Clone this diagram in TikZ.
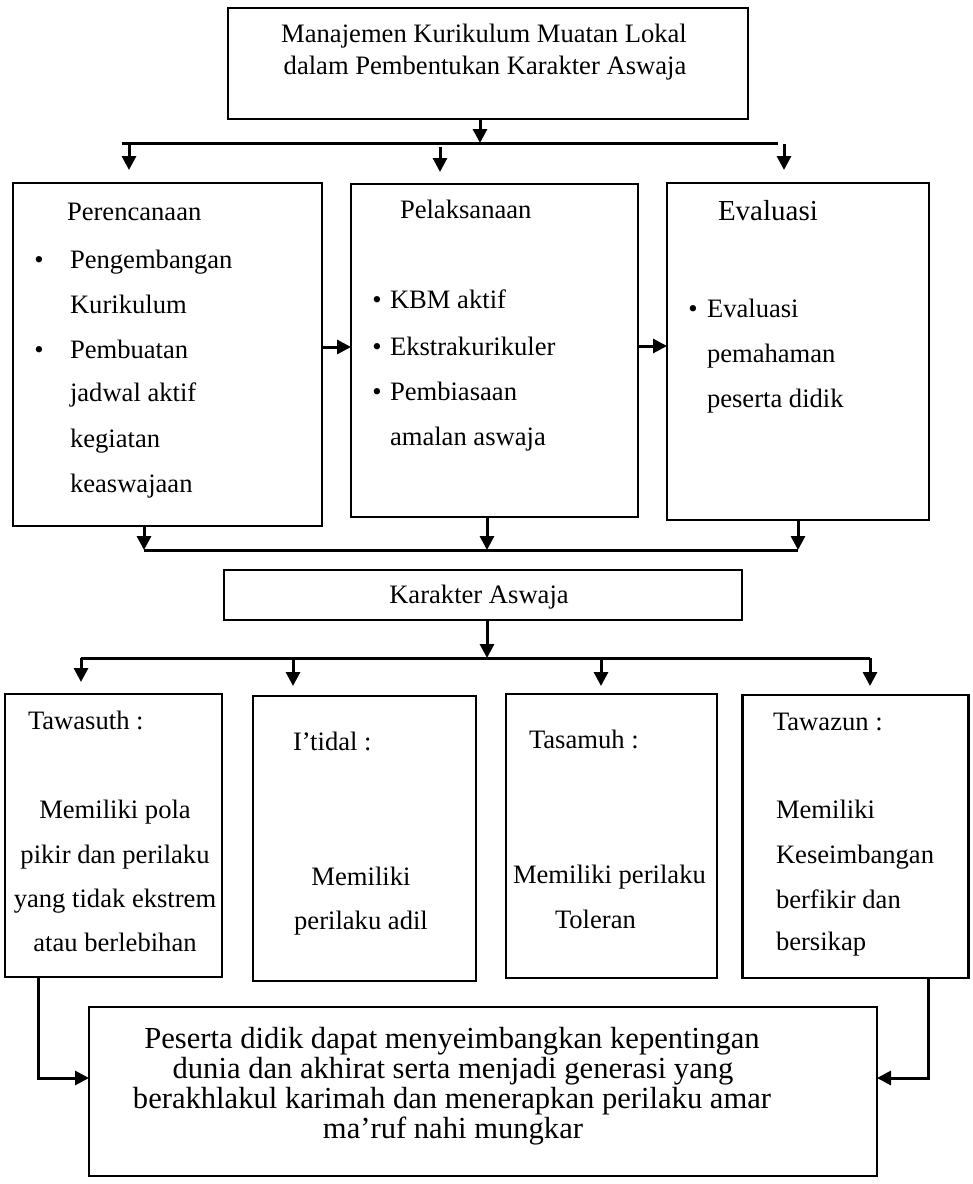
\documentclass[tikz,border=0pt]{standalone}
\usepackage{fontspec}
\setmainfont{Liberation Serif}
\usetikzlibrary{arrows.meta}
\begin{document}
\begin{tikzpicture}[x=1pt,y=-1pt,
  box/.style={draw,line width=2.5pt,inner sep=0pt,outer sep=0pt},
  txt/.style={inner sep=0pt,outer sep=0pt,anchor=base west,font=\fontsize{26.6pt}{32pt}\selectfont},
  ctxt/.style={txt,anchor=base},
  btxt/.style={inner sep=0pt,outer sep=0pt,anchor=base,font=\fontsize{30.6pt}{30pt}\selectfont},
  ln/.style={line width=3pt},
  arr/.style={line width=3pt,-{Triangle[width=14pt,length=14pt]}},
]
\path[use as bounding box] (0,0) rectangle (973,1184);

% ---------- boxes ----------
\node[box,minimum width=520pt,minimum height=111pt] (top) at (488,63.5) {};
\node[box,minimum width=309pt,minimum height=343pt] (b1) at (167.5,354.5) {};
\node[box,minimum width=287pt,minimum height=333pt] (b2) at (494.5,350.5) {};
\node[box,minimum width=262pt,minimum height=337pt] (b3) at (798,351.5) {};
\node[box,minimum width=518pt,minimum height=50pt] (ka) at (483,595) {};
\node[box,minimum width=217pt,minimum height=283pt] (ca) at (113.5,835.5) {};
\node[box,minimum width=223pt,minimum height=285pt] (cb) at (364.5,838.5) {};
\node[box,minimum width=211pt,minimum height=284pt] (cc) at (611.5,836) {};
\node[box,minimum width=226pt,minimum height=283pt] (cd) at (855.5,836.5) {};
\node[box,minimum width=788pt,minimum height=169pt] (bot) at (483,1091.5) {};

% ---------- texts ----------
\node[ctxt] (t1) at (484,42) {Manajemen Kurikulum Muatan Lokal};
\node[ctxt] (t2) at (485,74) {dalam Pembentukan Karakter Aswaja};

\node[txt] (p0) at (67,220) {Perencanaan};
\node[ctxt] (pb1) at (39,268) {•};
\node[txt] (p1) at (70,268) {Pengembangan};
\node[txt] (p2) at (70,313) {Kurikulum};
\node[ctxt] (pb2) at (39,358) {•};
\node[txt] (p3) at (70,358) {Pembuatan};
\node[txt] (p4) at (70,401) {jadwal aktif};
\node[txt] (p5) at (70,447) {kegiatan};
\node[txt] (p6) at (70,492) {keaswajaan};

\node[txt] (l0) at (400,218) {Pelaksanaan};
\node[ctxt] (lb1) at (377,308) {•};
\node[txt] (l1) at (390,308) {KBM aktif};
\node[ctxt] (lb2) at (377,355) {•};
\node[txt] (l2) at (390,355) {Ekstrakurikuler};
\node[ctxt] (lb3) at (377,400) {•};
\node[txt] (l3) at (390,400) {Pembiasaan};
\node[txt] (l4) at (390,445) {amalan aswaja};

\node[txt,font=\fontsize{29pt}{32pt}\selectfont] (e0) at (718,220) {Evaluasi};
\node[ctxt] (eb1) at (693,317) {•};
\node[txt] (e1) at (707,317) {Evaluasi};
\node[txt] (e2) at (707,362) {pemahaman};
\node[txt] (e3) at (707,407) {peserta didik};

\node[ctxt] (k0) at (479,603) {Karakter Aswaja};

\node[txt] (a0) at (28,729) {Tawasuth :};
\node[ctxt] (a1) at (115,818) {Memiliki pola};
\node[ctxt] (a2) at (115,863) {pikir dan perilaku};
\node[ctxt] (a3) at (115,907) {yang tidak ekstrem};
\node[ctxt] (a4) at (115,951) {atau berlebihan};

\node[txt] (i0) at (293,750) {I’tidal :};
\node[ctxt] (i1) at (361,885) {Memiliki};
\node[ctxt] (i2) at (361,929) {perilaku adil};

\node[txt] (s0) at (529,748) {Tasamuh :};
\node[txt] (s1) at (513,883) {Memiliki perilaku};
\node[txt] (s2) at (555,928) {Toleran};

\node[txt] (z0) at (773,730) {Tawazun :};
\node[txt] (z1) at (776,818) {Memiliki};
\node[txt] (z2) at (776,863) {Keseimbangan};
\node[txt] (z3) at (776,908) {berfikir dan};
\node[txt] (z4) at (776,950) {bersikap};

\node[btxt] (r1) at (452,1048) {Peserta didik dapat menyeimbangkan kepentingan};
\node[btxt] (r2) at (453,1078) {dunia dan akhirat serta menjadi generasi yang};
\node[btxt] (r3) at (452,1108) {berakhlakul karimah dan menerapkan perilaku amar};
\node[btxt] (r4) at (453,1138) {ma’ruf nahi mungkar};

% ---------- connectors ----------
\coordinate (j1) at (480,143);
\coordinate (h1l) at (122,143);
\coordinate (h1r) at (778,143);
\draw[arr] (top.south -| j1) -- (j1);
\draw[ln] (h1l) -- (h1r);
\coordinate (s1a) at (129,143);  \coordinate (e1a) at (129,170);
\coordinate (s1b) at (440,147);  \coordinate (e1b) at (440,172);
\coordinate (s1c) at (784,144);  \coordinate (e1c) at (784,170);
\draw[arr] (s1a) -- (e1a);
\draw[arr] (s1b) -- (e1b);
\draw[arr] (s1c) -- (e1c);

\coordinate (m1) at (0,347);
\coordinate (m2) at (0,346);
\draw[arr] (b1.east |- m1) -- (b2.west |- m1);
\draw[arr] (b2.east |- m2) -- (b3.west |- m2);

\coordinate (h2l) at (144,550);
\coordinate (h2m) at (487,550);
\coordinate (h2r) at (798,550);
\draw[ln] (h2l) -- (h2r);
\draw[arr] (b1.south -| h2l) -- (h2l);
\draw[arr] (b2.south -| h2m) -- (h2m);
\draw[arr] (b3.south -| h2r) -- (h2r);

\coordinate (j3) at (487,658);
\coordinate (h3l) at (81,658);
\coordinate (h3r) at (870,658);
\draw[arr] (ka.south -| j3) -- (j3);
\draw[ln] (h3l) -- (h3r);
\coordinate (f1) at (81,682);
\coordinate (f2) at (293,686);
\coordinate (f3) at (601,686);
\coordinate (f4) at (870,686);
\draw[arr] (f1 |- h3l) -- (f1);
\draw[arr] (f2 |- h3l) -- (f2);
\draw[arr] (f3 |- h3l) -- (f3);
\draw[arr] (f4 |- h3l) -- (f4);

\coordinate (cA) at (38,1078);
\coordinate (cD) at (928,1078);
\draw[arr] (ca.south -| cA) |- (bot.west |- cA);
\draw[arr] (cd.south -| cD) |- (bot.east |- cD);
\end{tikzpicture}
\end{document}
